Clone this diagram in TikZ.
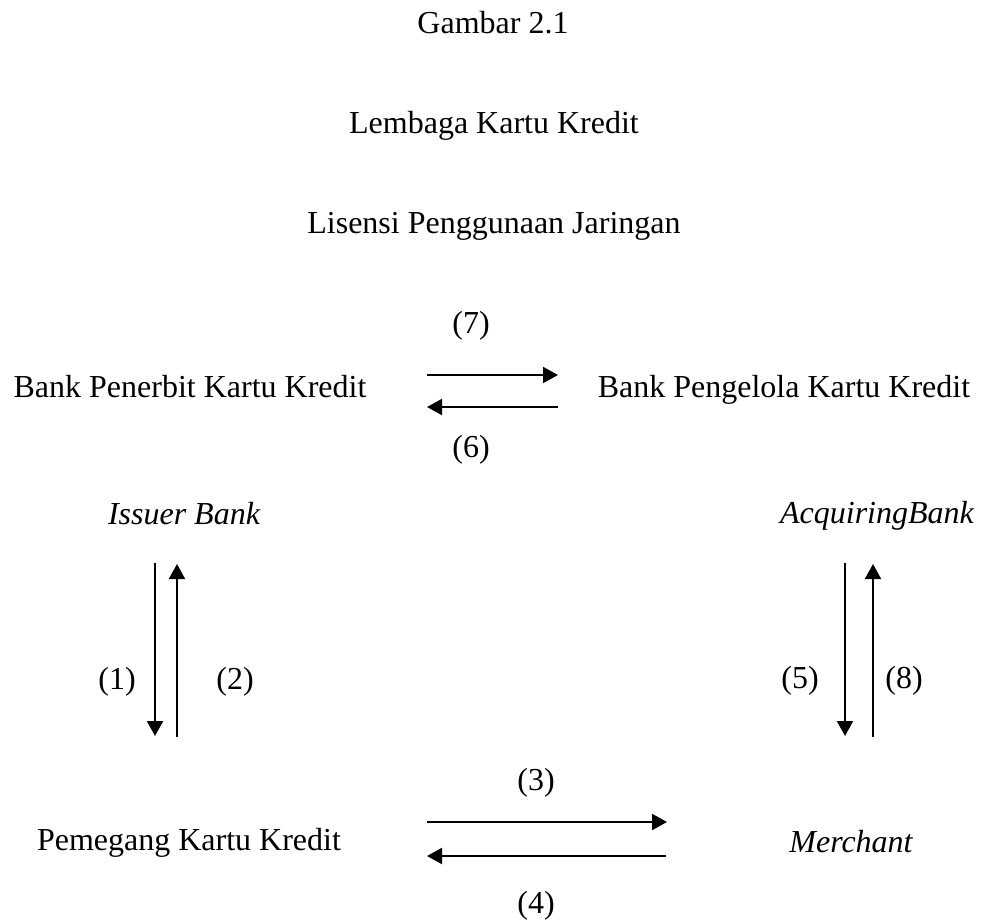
\documentclass[tikz,border=0pt]{standalone}
\usepackage{fontspec}
\setmainfont{Liberation Serif}
\usetikzlibrary{arrows.meta}
\begin{document}
\begin{tikzpicture}[x=1pt,y=-1pt,
  txt/.style={inner sep=0pt,anchor=base,font=\fontsize{32}{38}\selectfont},
  itxt/.style={txt,font=\fontsize{32}{38}\selectfont\itshape},
  arr/.style={line width=2pt,-{Triangle[length=15pt,width=16pt]}}]
\useasboundingbox[fill=white] (0,0) rectangle (986,922);
\node[txt] (title) at (493,33) {Gambar 2.1};
\node[txt] (lembaga) at (494,133) {Lembaga Kartu Kredit};
\node[txt] (lisensi) at (494,233) {Lisensi Penggunaan Jaringan};
\node[txt] (l7) at (471,333) {(7)};
\node[txt] (penerbit) at (190,397) {Bank Penerbit Kartu Kredit};
\node[txt] (pengelola) at (784,397) {Bank Pengelola Kartu Kredit};
\node[txt] (l6) at (471,457) {(6)};
\node[itxt] (issuer) at (184,524) {Issuer Bank};
\node[itxt] (acq) at (877,523) {AcquiringBank};
\node[txt] (l1) at (117,689) {(1)};
\node[txt] (l2) at (235,689) {(2)};
\node[txt] (l5) at (800,688) {(5)};
\node[txt] (l8) at (904,688) {(8)};
\node[txt] (l3) at (536,790) {(3)};
\node[txt] (pemegang) at (189,850) {Pemegang Kartu Kredit};
\node[itxt] (merchant) at (851,852) {Merchant};
\node[txt] (l4) at (536,913) {(4)};
% arrow end points
\coordinate (a7s) at (427,375); \coordinate (a7e) at (558,375);
\coordinate (a6s) at (558,407); \coordinate (a6e) at (427,407);
\coordinate (a1s) at (155,563); \coordinate (a1e) at (155,736);
\coordinate (a2s) at (177,737); \coordinate (a2e) at (177,564);
\coordinate (a5s) at (845,563); \coordinate (a5e) at (845,736);
\coordinate (a8s) at (873,737); \coordinate (a8e) at (873,564);
\coordinate (a3s) at (427,822); \coordinate (a3e) at (667,822);
\coordinate (a4s) at (666,856); \coordinate (a4e) at (427,856);
\draw[arr] (a7s) -- (a7e);
\draw[arr] (a6s) -- (a6e);
\draw[arr] (a1s) -- (a1e);
\draw[arr] (a2s) -- (a2e);
\draw[arr] (a5s) -- (a5e);
\draw[arr] (a8s) -- (a8e);
\draw[arr] (a3s) -- (a3e);
\draw[arr] (a4s) -- (a4e);
\end{tikzpicture}
\end{document}
